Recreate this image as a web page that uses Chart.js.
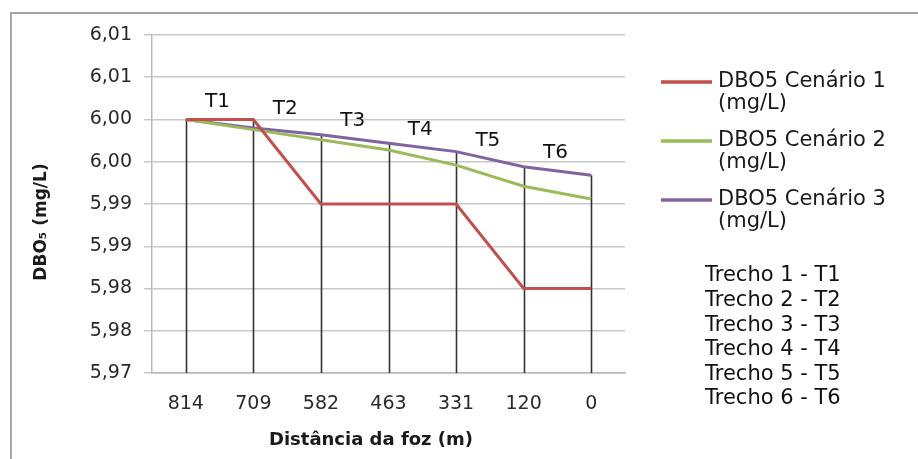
<!DOCTYPE html>
<html><head><meta charset="utf-8">
<script src="https://cdn.jsdelivr.net/npm/chart.js@4.4.1/dist/chart.umd.min.js"></script>
<style>html,body{margin:0;padding:0;background:#fff;overflow:hidden}</style>
</head><body>
<canvas id="c" width="918" height="459"></canvas>
<script>
const categories = ['814', '709', '582', '463', '331', '120', '0'];
const cenario1 = [6.000, 6.000, 5.990, 5.990, 5.990, 5.980, 5.980];
const cenario2 = [6.000, 5.9988, 5.9976, 5.9964, 5.9946, 5.9921, 5.9906];
const cenario3 = [6.000, 5.9990, 5.9982, 5.9972, 5.9962, 5.9944, 5.9934];
const seriesLabels = ['DBO5 Cenário 1 (mg/L)', 'DBO5 Cenário 2 (mg/L)', 'DBO5 Cenário 3 (mg/L)'];
const seriesColors = ['#c0504d', '#9bbb59', '#8064a2'];
const yTickLabels = ['5,97', '5,98', '5,98', '5,99', '5,99', '6,00', '6,00', '6,01', '6,01']; // bottom to top
const segmentLabels = ['T1', 'T2', 'T3', 'T4', 'T5', 'T6'];
const trechoLabels = ['Trecho 1 - T1', 'Trecho 2 - T2', 'Trecho 3 - T3', 'Trecho 4 - T4', 'Trecho 5 - T5', 'Trecho 6 - T6'];
const yTitle = 'DBO\u2085 (mg/L)';
const xTitle = 'Distância da foz (m)';

const FONT = '"DejaVu Sans", sans-serif';

function maxAt(chart, i) {
  return Math.max(...chart.data.datasets.map(d => d.data[i]));
}

const decor = {
  id: 'decor',
  beforeDraw(chart) {
    const ctx = chart.ctx;
    ctx.save();
    ctx.fillStyle = '#fff';
    ctx.fillRect(0, 0, chart.width, chart.height);
    ctx.strokeStyle = '#a6a6a6';
    ctx.lineWidth = 2;
    ctx.strokeRect(11, 13, chart.width + 20, chart.height + 20);
    ctx.restore();
  },
  beforeDatasetsDraw(chart) {
    const ctx = chart.ctx, xs = chart.scales.x, ys = chart.scales.y;
    ctx.save();
    ctx.strokeStyle = '#333333';
    ctx.lineWidth = 1.6;
    categories.forEach((c, i) => {
      const x = Math.round(xs.getPixelForValue(i)) + 0.5;
      ctx.beginPath();
      ctx.moveTo(x, ys.getPixelForValue(maxAt(chart, i)));
      ctx.lineTo(x, chart.chartArea.bottom);
      ctx.stroke();
    });
    ctx.restore();
  },
  afterDatasetsDraw(chart) {
    const ctx = chart.ctx, xs = chart.scales.x, ys = chart.scales.y;
    ctx.save();
    ctx.fillStyle = '#111';
    ctx.font = '20px ' + FONT;
    ctx.textAlign = 'center';
    ctx.textBaseline = 'middle';
    segmentLabels.forEach((t, i) => {
      const x = (xs.getPixelForValue(i) + xs.getPixelForValue(i + 1)) / 2 - 2;
      const v = (maxAt(chart, i) + maxAt(chart, i + 1)) / 2;
      ctx.fillText(t, x, ys.getPixelForValue(v) - 18);
    });
    ctx.restore();
  },
  afterDraw(chart) {
    const ctx = chart.ctx;
    ctx.save();
    // legend
    ctx.font = '21px ' + FONT;
    ctx.textBaseline = 'middle';
    ctx.textAlign = 'left';
    chart.data.datasets.forEach((d, i) => {
      const y = 82 + i * 59;
      ctx.strokeStyle = d.borderColor;
      ctx.lineWidth = 3.5;
      ctx.beginPath();
      ctx.moveTo(661, y);
      ctx.lineTo(712, y);
      ctx.stroke();
      const k = d.label.indexOf(' (');
      ctx.fillStyle = '#1a1a1a';
      ctx.fillText(d.label.slice(0, k), 718, y);
      ctx.fillText(d.label.slice(k + 1), 718, y + 22);
    });
    // trecho list
    ctx.fillStyle = '#111';
    trechoLabels.forEach((t, i) => ctx.fillText(t, 705, 276 + i * 24.6));
    // axis titles
    ctx.fillStyle = '#1a1a1a';
    ctx.font = 'bold 18px ' + FONT;
    ctx.textAlign = 'center';
    ctx.fillText(xTitle, 371, 440);
    ctx.translate(42, 222);
    ctx.rotate(-Math.PI / 2);
    ctx.font = 'bold 17px ' + FONT;
    ctx.fillText(yTitle, 0, 0);
    ctx.restore();
  }
};

const seriesData = [cenario1, cenario2, cenario3];

new Chart(document.getElementById('c'), {
  type: 'line',
  data: {
    labels: categories,
    datasets: seriesData.map((d, i) => ({
      label: seriesLabels[i],
      data: d,
      borderColor: seriesColors[i],
      backgroundColor: seriesColors[i],
      borderWidth: 3,
      pointRadius: 0,
      tension: 0,
      fill: false
    }))
  },
  options: {
    responsive: false,
    animation: false,
    devicePixelRatio: 1,
    layout: { padding: { top: 35, right: 293, left: 0, bottom: 0 } },
    plugins: { legend: { display: false }, title: { display: false }, tooltip: { enabled: false } },
    scales: {
      x: {
        offset: true,
        grid: { display: false },
        border: { display: true, color: '#b8b8b8', width: 1.5 },
        ticks: { color: '#2a2a2a', font: { family: FONT, size: 19 }, padding: 12, maxRotation: 0, autoSkip: false },
        afterFit(s) { s.height = 86; }
      },
      y: {
        min: 5.97,
        max: 6.01,
        ticks: {
          stepSize: 0.005,
          color: '#2a2a2a',
          font: { family: FONT, size: 19 },
          padding: 12,
          autoSkip: false,
          callback: (v, i) => yTickLabels[i] ?? ''
        },
        grid: { color: '#c8c8c8', lineWidth: 1.5, tickLength: 8 },
        border: { color: '#b8b8b8', width: 1.5 },
        afterFit(s) { s.width = 152; }
      }
    }
  },
  plugins: [decor]
});
</script>
</body></html>
